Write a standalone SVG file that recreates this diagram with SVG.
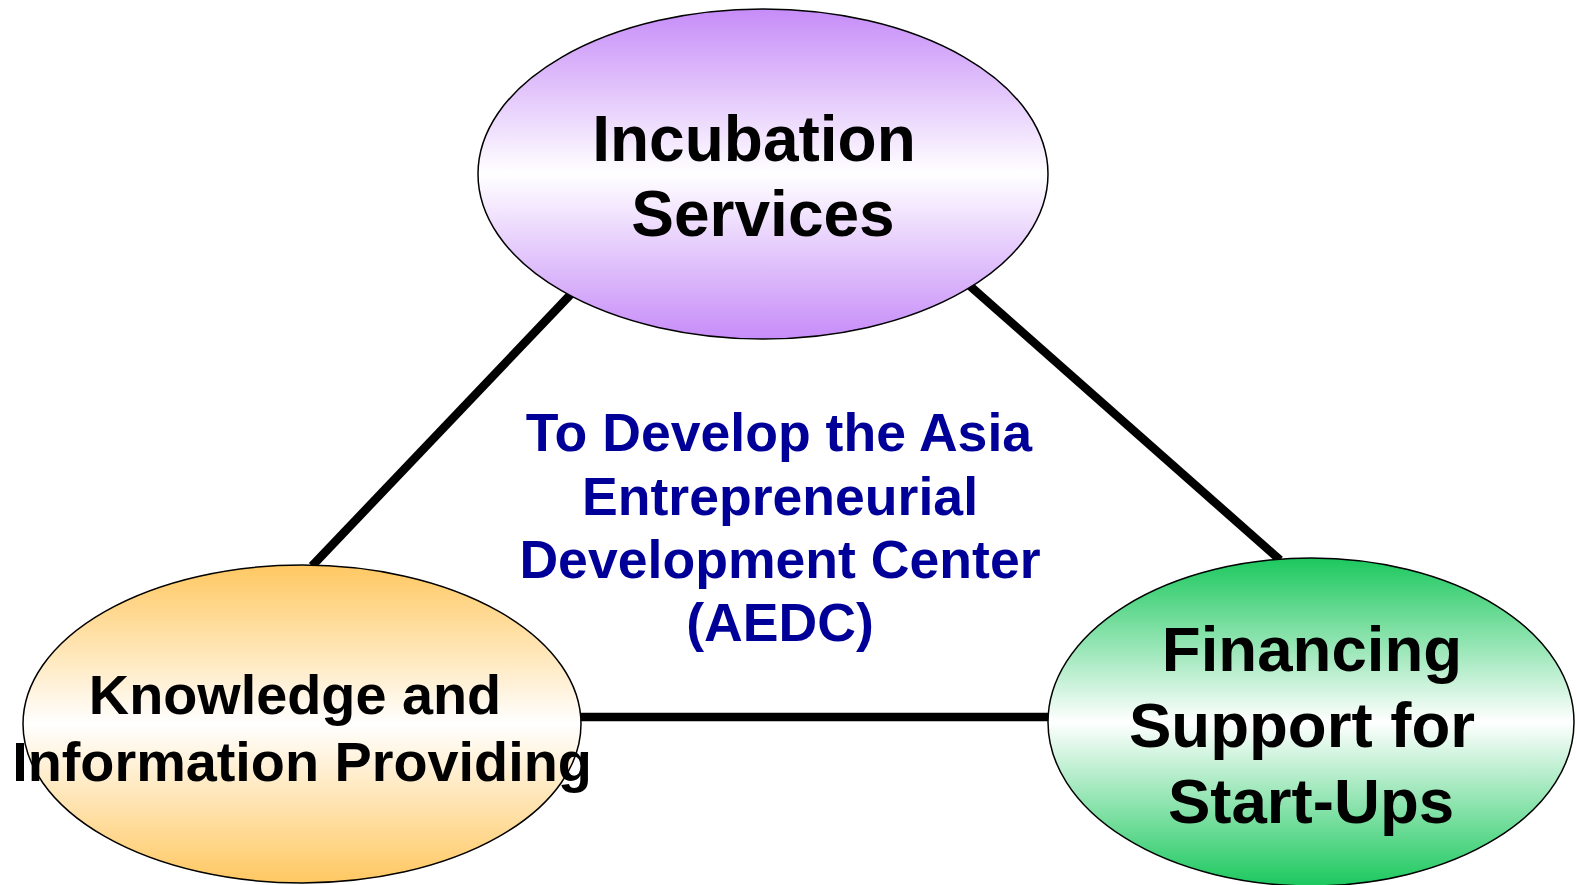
<svg xmlns="http://www.w3.org/2000/svg" width="1577" height="885" viewBox="0 0 1577 885">
<style>
.node{stroke:#000;stroke-width:1.5}
.lbl{font-family:"Liberation Sans",Arial,sans-serif;font-weight:bold;fill:#000;text-anchor:middle}
.ctr{font-family:"Liberation Sans",Arial,sans-serif;font-weight:bold;fill:#000099;text-anchor:middle;font-size:53.6px}
.conn{stroke:#000;stroke-width:8.5;fill:none}
</style>
<defs>
<linearGradient id="gP" x1="0" y1="0" x2="0" y2="1">
<stop offset="0" stop-color="#C68CF8"/><stop offset="0.5" stop-color="#FFFFFF"/><stop offset="1" stop-color="#C68CF8"/>
</linearGradient>
<linearGradient id="gO" x1="0" y1="0" x2="0" y2="1">
<stop offset="0" stop-color="#FFC862"/><stop offset="0.5" stop-color="#FFFFFF"/><stop offset="1" stop-color="#FFC862"/>
</linearGradient>
<linearGradient id="gG" x1="0" y1="0" x2="0" y2="1">
<stop offset="0" stop-color="#1CC85E"/><stop offset="0.5" stop-color="#FFFFFF"/><stop offset="1" stop-color="#1CC85E"/>
</linearGradient>
</defs>
<rect width="1577" height="885" fill="#fff"/>
<g id="connectors">
<line class="conn" x1="312" y1="566" x2="572" y2="293"/>
<line class="conn" x1="970" y1="286" x2="1280" y2="560"/>
<line class="conn" x1="575" y1="717" x2="1052" y2="717"/>
</g>
<g id="incubation">
<ellipse class="node" cx="763" cy="174" rx="285" ry="165" fill="url(#gP)"/>
<text class="lbl" font-size="64" x="754" y="161">Incubation</text>
<text class="lbl" font-size="64" x="763" y="236">Services</text>
</g>
<g id="knowledge">
<ellipse class="node" cx="302" cy="724" rx="279" ry="159" fill="url(#gO)"/>
<text class="lbl" font-size="55.8" x="295" y="714">Knowledge and</text>
<text class="lbl" font-size="55.8" x="302" y="781">Information Providing</text>
</g>
<g id="financing">
<ellipse class="node" cx="1311" cy="722" rx="263" ry="164" fill="url(#gG)"/>
<text class="lbl" font-size="63.6" x="1312" y="671">Financing</text>
<text class="lbl" font-size="63.6" x="1302" y="747">Support for</text>
<text class="lbl" font-size="63.6" x="1311" y="823">Start-Ups</text>
</g>
<g id="center">
<text class="ctr" x="779" y="451">To Develop the Asia</text>
<text class="ctr" x="780" y="515">Entrepreneurial</text>
<text class="ctr" x="780" y="578">Development Center</text>
<text class="ctr" x="780" y="641">(AEDC)</text>
</g>
</svg>
